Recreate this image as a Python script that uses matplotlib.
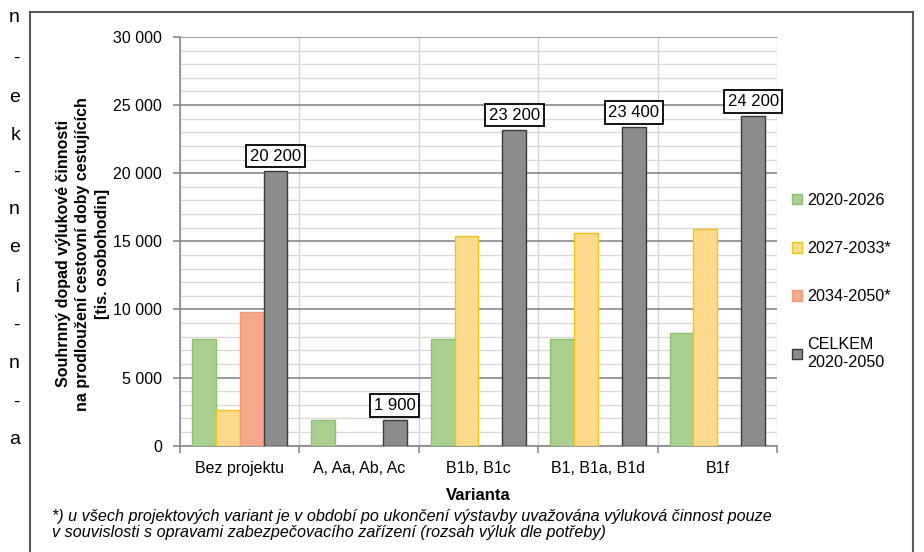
import numpy as np
import matplotlib
matplotlib.use("Agg")
import matplotlib.pyplot as plt
from matplotlib.lines import Line2D
from matplotlib.ticker import MultipleLocator, FuncFormatter

plt.rcParams['font.family'] = ['Liberation Sans', 'DejaVu Sans']

# Data (tis. osobohodin)
categories = ["Bez projektu", "A, Aa, Ab, Ac", "B1b, B1c", "B1, B1a, B1d", "B1f"]
s_2020_2026 = [7850, 1900, 7850, 7850, 8300]
s_2027_2033 = [2600, np.nan, 15400, 15600, 15900]
s_2034_2050 = [9850, np.nan, np.nan, np.nan, np.nan]
s_celkem = [20200, 1900, 23200, 23400, 24200]
series_names = ["2020-2026", "2027-2033*", "2034-2050*", "CELKEM\n2020-2050"]

fills = ["#A9D08E", "#FFD98C", "#F5A98A", "#8C8C8C"]
edges = ["#8FBF72", "#F0C419", "#EE9A76", "#3A3A3A"]

W, H = 924, 552
fig = plt.figure(figsize=(W / 100, H / 100), dpi=100)
ax = fig.add_axes([180 / W, 1 - 445.7 / H, (777 - 180) / W, (445.7 - 37) / H])

def thousands(v, pos=None):
    return f"{v:,.0f}".replace(",", " ")

x = np.arange(len(categories))
bw = 0.2
all_series = [s_2020_2026, s_2027_2033, s_2034_2050, s_celkem]
containers = []
for j, vals in enumerate(all_series):
    c = ax.bar(x + (j - 1.5) * bw, vals, width=bw, color=fills[j],
               edgecolor=edges[j], linewidth=1.0, label=series_names[j], zorder=3)
    containers.append(c)

ax.bar_label(containers[3], labels=[thousands(v) for v in s_celkem], padding=5,
             fontsize=12, color="black",
             bbox=dict(boxstyle="square,pad=0.22", facecolor="white",
                       edgecolor="black", linewidth=1.3), zorder=5)

ax.set_xlim(-0.5, len(categories) - 0.5)
ax.set_ylim(0, 30000)
ax.yaxis.set_major_locator(MultipleLocator(5000))
ax.yaxis.set_minor_locator(MultipleLocator(1000))
ax.yaxis.set_major_formatter(FuncFormatter(thousands))
ax.grid(which="major", axis="y", color="#8A8A8A", linewidth=1.2, zorder=1)
ax.grid(which="minor", axis="y", color="#D9D9D9", linewidth=1.0, zorder=0)

# category boundaries
ax.set_xticks(x)
ax.set_xticklabels(categories, fontsize=11.5)
ax.set_xticks(np.arange(len(categories) + 1) - 0.5, minor=True)
ax.grid(which="minor", axis="x", color="#D4D4D4", linewidth=1.0, zorder=0)
ax.tick_params(axis="x", which="major", length=0, pad=11)
ax.tick_params(axis="x", which="minor", length=5, color="#8A8A8A", width=1.2)
ax.tick_params(axis="y", which="major", length=5, color="#8A8A8A", width=1.2,
               labelsize=11.5, pad=8)
ax.tick_params(axis="y", which="minor", length=0)

for s in ["top", "right"]:
    ax.spines[s].set_visible(False)
for s in ["left", "bottom"]:
    ax.spines[s].set_color("#8A8A8A")
    ax.spines[s].set_linewidth(1.2)

ax.set_xlabel("Varianta", fontsize=12, fontweight="bold", labelpad=9)
ax.set_ylabel("Souhrnný dopad výlukové činnosti\nna prodloužení cestovní doby cestujících\n[tis. osobohodin]",
              fontsize=11.5, fontweight="bold", linespacing=1.4)
ax.yaxis.set_label_coords(-0.117, 0.47)

leg = fig.legend(handles=containers, labels=series_names,
                 loc="upper left", bbox_to_anchor=(784 / W, 1 - 185 / H),
                 frameon=False, fontsize=11.6, handlelength=0.6, handleheight=0.6,
                 handletextpad=0.35, labelspacing=2.05, borderpad=0)

# outer frame
frame_kw = dict(color="#5A5A5A", linewidth=1.5, transform=fig.transFigure)
fig.add_artist(Line2D([30 / W, 913 / W], [1 - 12 / H, 1 - 12 / H], **frame_kw))
fig.add_artist(Line2D([30 / W, 30 / W], [1 - 12 / H, 0], **frame_kw))
fig.add_artist(Line2D([913 / W, 913 / W], [1 - 12 / H, 0], **frame_kw))

# footnote
foot_kw = dict(fontsize=11.6, style="italic", va="center")
fig.text(52 / W, 1 - 516 / H,
         "*) u všech projektových variant je v období po ukončení výstavby uvažována výluková činnost pouze",
         **foot_kw)
fig.text(52 / W, 1 - 532 / H,
         "v souvislosti s opravami zabezpečovacího zařízení (rozsah výluk dle potřeby)",
         **foot_kw)

# line endings of the neighbouring column
edge_chars = ["n", "-", "e", "k", "-", "n", "e", "í", "-", "n", "-", "a"]
edge_y = [17, 58, 97, 135, 172, 210, 248, 287, 325, 363, 402, 440]
for ch, yy in zip(edge_chars, edge_y):
    fig.text(20 / W, 1 - yy / H, ch, fontsize=14, ha="right", va="center")

fig.savefig("out.png", dpi=100)
